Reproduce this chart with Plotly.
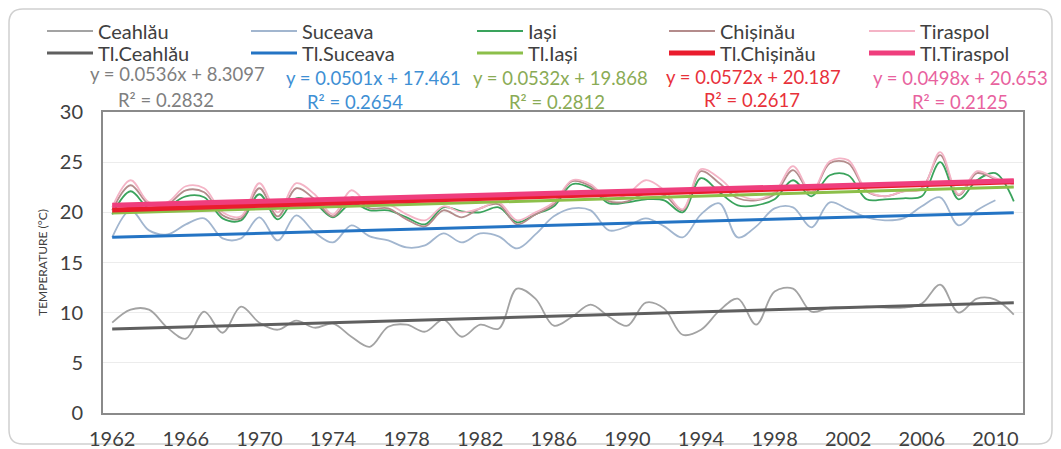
import plotly.graph_objects as go

# ---------------- data ----------------
years = list(range(1962, 2012))

ceahlau = [9.0, 10.3, 10.3, 8.5, 7.4, 10.1, 8.0, 10.6, 9.0, 8.3,
           9.2, 8.5, 8.9, 7.6, 6.6, 8.6, 8.8, 8.1, 9.3, 7.6,
           8.8, 8.4, 12.4, 11.4, 8.7, 9.6, 10.8, 9.6, 8.7, 11.0,
           10.4, 7.8, 8.3, 10.2, 11.4, 8.8, 12.1, 12.4, 10.1, 10.5,
           10.5, 10.6, 10.5, 10.5, 10.9, 12.8, 10.0, 11.4, 11.3, 9.8]

suceava = [17.5, 20.2, 18.2, 17.8, 18.8, 19.4, 17.4, 17.4, 19.5, 17.2,
           19.7, 18.0, 17.0, 18.7, 17.6, 17.2, 16.5, 16.7, 17.9, 17.0,
           17.9, 17.6, 16.4, 17.8, 19.6, 20.4, 20.2, 18.2, 18.6, 19.4,
           18.6, 17.5, 19.8, 20.9, 17.5, 18.6, 20.4, 20.5, 18.5, 21.0,
           20.3, 19.5, 19.2, 19.4, 20.6, 21.5, 18.7, 20.2, 21.2, None]

iasi = [19.8, 22.1, 20.4, 20.6, 21.6, 21.5, 19.4, 19.2, 21.8, 19.3,
        21.4, 20.9, 19.5, 20.9, 20.2, 20.2, 19.5, 18.8, 20.5, 20.1,
        20.0, 20.5, 19.0, 19.8, 20.6, 22.8, 22.4, 20.9, 21.0, 21.3,
        21.2, 20.0, 23.4, 22.0, 20.7, 20.7, 21.3, 23.2, 21.6, 23.7,
        23.7, 21.3, 21.3, 21.4, 21.6, 25.0, 21.3, 23.2, 23.9, 21.1]

chisinau = [20.2, 22.7, 20.8, 20.8, 22.2, 22.0, 19.7, 19.4, 22.4, 19.6,
            22.4, 21.3, 19.6, 21.5, 20.4, 20.4, 19.3, 18.6, 20.2, 19.5,
            20.4, 20.8, 18.8, 19.8, 20.8, 23.1, 22.6, 21.1, 21.1, 21.9,
            21.7, 20.2, 24.1, 22.9, 21.4, 21.2, 21.8, 24.2, 21.9, 24.9,
            24.9, 22.1, 21.6, 22.1, 22.4, 25.7, 21.7, 23.9, 23.3, 22.8]

tiraspol = [20.5, 23.2, 21.0, 21.0, 22.6, 22.4, 20.0, 19.6, 22.9, 20.0,
            22.9, 21.8, 19.8, 22.2, 20.7, 20.8, 19.8, 19.2, 20.6, 20.0,
            20.4, 21.0, 19.2, 20.0, 21.0, 23.2, 22.8, 21.3, 21.8, 23.2,
            22.2, 20.3, 24.3, 23.4, 21.8, 21.3, 22.0, 24.6, 22.0, 25.1,
            25.2, 22.2, 21.6, 22.1, 22.3, 26.0, 21.8, 24.1, 23.4, 22.8]

stations = ["Ceahlău", "Suceava", "Iași", "Chișinău", "Tiraspol"]
series = [ceahlau, suceava, iasi, chisinau, tiraspol]
trend_slope = [0.0536, 0.0501, 0.0532, 0.0572, 0.0498]
trend_intercept = [8.3097, 17.461, 19.868, 20.187, 20.653]
trend_r2 = [0.2832, 0.2654, 0.2812, 0.2617, 0.2125]
year_ticks = list(range(1962, 2011, 4))

# ---------------- layout geometry (page pixels) ----------------
OFF = 8                      # default body margin of the written page
W, H = 1061 - OFF, 449 - OFF
PL, PR, PT, PB = 103, 1023, 112, 413   # plot area in page pixels
L, R, T, B = PL - OFF, PR - OFF, PT - OFF, PB - OFF
FONT = "Lato, 'Open Sans', sans-serif"
TXT = "#404040"

data_colors = ["#a3a3a3", "#a2b6cf", "#3aa35c", "#b48c8c", "#f4b4c6"]
data_widths = [1.8, 1.8, 1.8, 1.8, 1.8]
trend_colors = ["#5f5f5f", "#2474c4", "#8cbf4a", "#ea1c2d", "#ef3e7d"]
trend_widths = [3, 3, 3, 5, 5]
eq_colors = ["#7f7f7f", "#3e8fd4", "#8aab55", "#e8313a", "#e8629e"]

ITEMW = 46
legend_text_x = [98, 302, 528, 720, 920]
legend_rows_y = [31, 53]
eq_pos = [(177, 74, 166, 100), (373, 78, 355, 102), (560, 78, 557, 102),
          (753, 77, 752, 100), (960, 78, 960, 102)]


def fx(px):
    return (px - OFF - L) / (R - L)


def fy(py):
    return (B - (py - OFF)) / (B - T)


fig = go.Figure()

# data series
for i, (name, vals) in enumerate(zip(stations, series)):
    fig.add_trace(go.Scatter(
        x=years, y=vals, mode="lines", name=name,
        line=dict(color=data_colors[i], width=data_widths[i], shape="spline", smoothing=1),
        connectgaps=False,
        legend="legend" if i == 0 else f"legend{i + 1}",
    ))

# trend lines
for i, name in enumerate(stations):
    ty = [trend_slope[i] * (k + 1) + trend_intercept[i] for k in range(len(years))]
    fig.add_trace(go.Scatter(
        x=years, y=ty, mode="lines", name="Tl." + name,
        line=dict(color=trend_colors[i], width=trend_widths[i]),
        legend=f"legend{i + 6}",
    ))

# legends (one per entry, placed like the original grid)
legends = {}
for j in range(10):
    col = j % 5
    row = j // 5
    key = "legend" if j == 0 else f"legend{j + 1}"
    legends[key] = dict(
        x=fx(legend_text_x[col] - ITEMW - 10), y=fy(legend_rows_y[row]),
        xanchor="left", yanchor="middle",
        bgcolor="rgba(0,0,0,0)", borderwidth=0, itemwidth=ITEMW,
        font=dict(family=FONT, size=20, color=TXT),
        orientation="v",
    )
fig.update_layout(**legends)

# equations
annotations = []
for i in range(5):
    ex, ey, rx, ry = eq_pos[i]
    annotations.append(dict(
        text=f"y = {trend_slope[i]}x + {trend_intercept[i]}",
        x=fx(ex), y=fy(ey), xref="paper", yref="paper",
        xanchor="center", yanchor="middle", showarrow=False,
        font=dict(family=FONT, size=18.5, color=eq_colors[i]),
    ))
    annotations.append(dict(
        text=f"R² = {trend_r2[i]}",
        x=fx(rx), y=fy(ry), xref="paper", yref="paper",
        xanchor="center", yanchor="middle", showarrow=False,
        font=dict(family=FONT, size=18.5, color=eq_colors[i]),
    ))

# rounded outer border
x0, y0, x1, y1, r = 9, 9, 1052, 444, 14
def P(px, py):
    return f"{fx(px):.5f},{fy(py):.5f}"
path = (f"M {P(x0 + r, y0)} L {P(x1 - r, y0)} Q {P(x1, y0)} {P(x1, y0 + r)} "
        f"L {P(x1, y1 - r)} Q {P(x1, y1)} {P(x1 - r, y1)} "
        f"L {P(x0 + r, y1)} Q {P(x0, y1)} {P(x0, y1 - r)} "
        f"L {P(x0, y0 + r)} Q {P(x0, y0)} {P(x0 + r, y0)} Z")

fig.update_layout(
    width=W, height=H,
    margin=dict(l=L, r=W - R, t=T, b=H - B, autoexpand=False),
    paper_bgcolor="white", plot_bgcolor="white",
    showlegend=True,
    annotations=annotations,
    shapes=[dict(type="path", path=path, xref="paper", yref="paper",
                 line=dict(color="#d0d0d0", width=1.5), layer="below")],
    xaxis=dict(
        range=[1961.5, 2011.5], tickmode="array", tickvals=year_ticks,
        ticktext=[str(y) for y in year_ticks],
        showgrid=False, zeroline=False, showline=True, mirror=True,
        linecolor="#8a8a8a", linewidth=2, ticks="",
        ticklabelstandoff=7, automargin=False,
        tickfont=dict(family=FONT, size=20, color=TXT),
    ),
    yaxis=dict(
        range=[0, 30], dtick=5, tick0=0,
        showgrid=True, gridcolor="#ececec", gridwidth=1, zeroline=False,
        showline=True, mirror=True, linecolor="#8a8a8a", linewidth=2, ticks="",
        ticklabelstandoff=14, automargin=False,
        tickfont=dict(family=FONT, size=20, color=TXT),
        title=dict(text="TEMPERATURE (°C)", standoff=10,
                   font=dict(family=FONT, size=12, color=TXT)),
    ),
)

fig.write_html("out.html")
